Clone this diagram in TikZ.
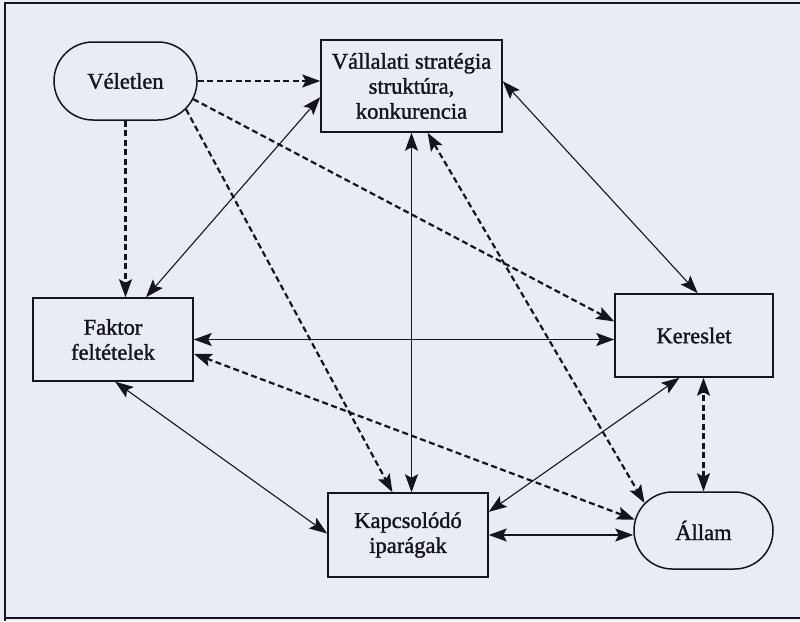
\documentclass[tikz,border=0pt]{standalone}
\usepackage{fontspec}
\setmainfont{Liberation Serif}[BoldFont=Liberation Serif, BoldFeatures={FakeBold=1.4}]
\usetikzlibrary{arrows.meta,shapes.misc}
\definecolor{scanpaper}{RGB}{234,236,245}
\definecolor{inkdark}{RGB}{20,20,30}

\begin{document}
\begin{tikzpicture}[x=1pt,y=-1pt,
    box/.style={draw=inkdark, line width=1.5pt, rectangle, inner sep=0pt,
      align=center, text=inkdark, font=\bfseries\fontsize{22.5}{25}\selectfont},
    roundbox/.style={box, rounded rectangle},
    link/.style={inkdark, line width=1.1pt},
    dashlink/.style={inkdark, line width=2.2pt, dash pattern=on 6pt off 3.5pt},
    >={Stealth[length=18pt,width=13pt,inset=3.5pt]}]

    % --- Page ---
    % Scanned paper colour and the frame on three sides
    \useasboundingbox (0,0) rectangle (800,621);
    \fill[scanpaper] (0,0) rectangle (800,621);
    \draw[inkdark, line width=2.5pt] (5,621) -- (5,3) -- (800,3);
    \draw[inkdark, line width=2.5pt] (5,618) -- (800,618);

    % --- Factors ---
    % The two rounded ones are the outer influences
    \node[roundbox, minimum width=143pt, minimum height=78pt] (vel) at (125.5,81) {Véletlen};
    \node[box, minimum width=181pt, minimum height=92pt] (vall) at (411.5,86) {Vállalati stratégia\\struktúra,\\konkurencia};
    \node[box, minimum width=160pt, minimum height=83pt] (fak) at (113,339.5) {Faktor\\feltételek};
    \node[box, minimum width=158pt, minimum height=83pt] (ker) at (694,335.5) {Kereslet};
    \node[box, minimum width=160pt, minimum height=84pt] (kap) at (408,535) {Kapcsolódó\\iparágak};
    \node[roundbox, minimum width=139pt, minimum height=77pt] (allam) at (703.5,530.5) {Állam};

    % --- Véletlen ---
    % One-way dashed influences
    \draw[dashlink,->] (vel.east) -- (vel.east -| vall.west);
    \draw[dashlink,->] (vel.south) -- (vel.south |- fak.north);
    \draw[dashlink,->] (vel.-15) -- (ker.170);
    \draw[dashlink,->] (vel.-25) -- (kap.110);

    % --- Vállalati stratégia ---
    \draw[link,<->] (vall.187) -- (fak.52);
    \draw[link,<->] (vall.3) -- (ker.85);
    \draw[link,<->] (vall.south) -- (vall.south |- kap.north);
    \draw[dashlink,<->] (vall.-71) -- (allam.155);

    % --- Faktor feltételek ---
    \draw[link,<->] (fak.east) -- (fak.east -| ker.west);
    \draw[dashlink,<->] (fak.-10) -- (allam.171);
    \draw[link,<->] (fak.-87) -- (kap.179);

    % --- Kereslet ---
    \draw[link,<->] (ker.-109) -- (kap.16);
    \draw[dashlink,<->] (allam.north) -- (allam.north |- ker.south);

    % --- Kapcsolódó iparágak ---
    \draw[link,<->] (kap.east) -- (kap.east -| allam.west);

\end{tikzpicture}
\end{document}
